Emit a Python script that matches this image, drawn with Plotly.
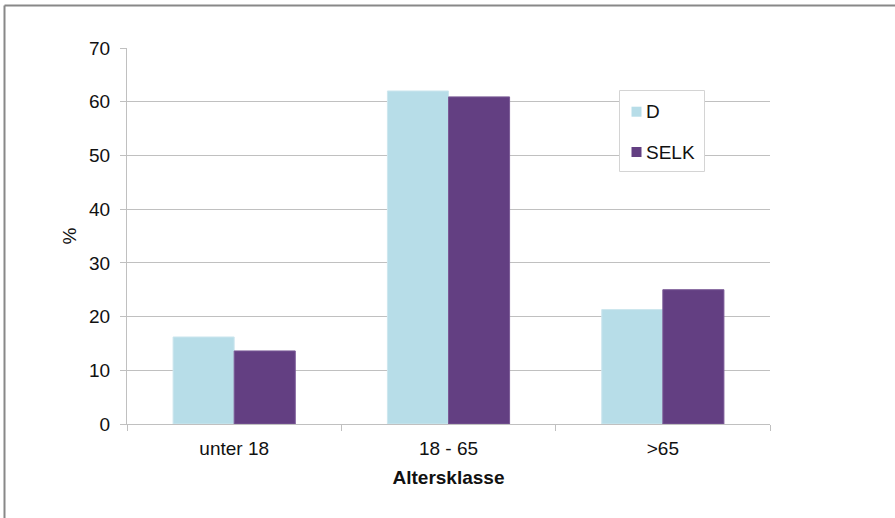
import plotly.graph_objects as go

categories = ["unter 18", "18 - 65", ">65"]
d_values = [16.2, 62.0, 21.3]
selk_values = [13.6, 60.9, 25.0]
y_ticks = [0, 10, 20, 30, 40, 50, 60, 70]
series_names = ["D", "SELK"]
series_colors = ["#b7dde8", "#633f82"]
edge_colors = ["#cde6ee", "#7a5a96"]

W, H = 895, 518
L, R, T, B = 127, 125, 48, 94
pw, ph = W - L - R, H - T - B


def px(x):
    return (x - L) / pw


def py(y):
    return 1 - (y - T) / ph


fig = go.Figure()
for name, vals, col, edge in zip(series_names, [d_values, selk_values],
                                 series_colors, edge_colors):
    fig.add_trace(go.Bar(
        x=categories, y=vals, name=name, showlegend=False,
        marker=dict(color=col, line=dict(color=edge, width=1)),
    ))

grid = "#c0c0c0"
font_family = "Liberation Sans, Arial, sans-serif"

# legend box drawn with shapes and text annotations
legend_shapes = [
    dict(type="rect", xref="paper", yref="paper",
         x0=px(619.5), x1=px(704.5), y0=py(90.5), y1=py(171.5),
         line=dict(color="#d4d4d4", width=1), fillcolor="white", layer="above"),
]
legend_annots = []
for i, (name, col) in enumerate(zip(series_names, series_colors)):
    cy = 111.7 + i * 40.3
    legend_shapes.append(dict(
        type="rect", xref="paper", yref="paper",
        x0=px(631.5), x1=px(641.5), y0=py(cy - 5), y1=py(cy + 5),
        line=dict(width=0), fillcolor=col, layer="above",
    ))
    legend_annots.append(dict(
        xref="paper", yref="paper", x=px(644), y=py(cy),
        xanchor="left", yanchor="middle", text=name, showarrow=False,
        font=dict(size=19, family=font_family, color="#111111"),
    ))

fig.update_layout(
    width=W, height=H,
    margin=dict(l=L, r=R, t=T, b=B),
    paper_bgcolor="white", plot_bgcolor="white",
    barmode="group", bargap=0.43, bargroupgap=0,
    showlegend=False,
    font=dict(family=font_family, size=19, color="#111111"),
    xaxis=dict(
        showline=True, linecolor=grid, linewidth=1,
        ticks="outside", ticklen=6, tickcolor=grid, tickson="boundaries",
        ticklabelstandoff=7,
        showgrid=False,
        title=dict(text="<b>Altersklasse</b>", standoff=12,
                   font=dict(size=19)),
    ),
    yaxis=dict(
        range=[0, 70], tickvals=y_ticks,
        showline=True, linecolor=grid, linewidth=1,
        ticks="outside", ticklen=6, tickcolor=grid,
        ticklabelstandoff=6,
        showgrid=True, gridcolor=grid, gridwidth=1,
        zeroline=False,
        title=dict(text="%", standoff=7, font=dict(size=19)),
    ),
    shapes=legend_shapes + [
        dict(type="line", xref="paper", yref="paper",
             x0=px(4.5), x1=px(W), y0=py(5.5), y1=py(5.5),
             line=dict(color="#888888", width=2)),
        dict(type="line", xref="paper", yref="paper",
             x0=px(4.5), x1=px(4.5), y0=py(5.5), y1=py(H),
             line=dict(color="#888888", width=2)),
    ],
    annotations=legend_annots,
)

fig.write_html("out.html")
